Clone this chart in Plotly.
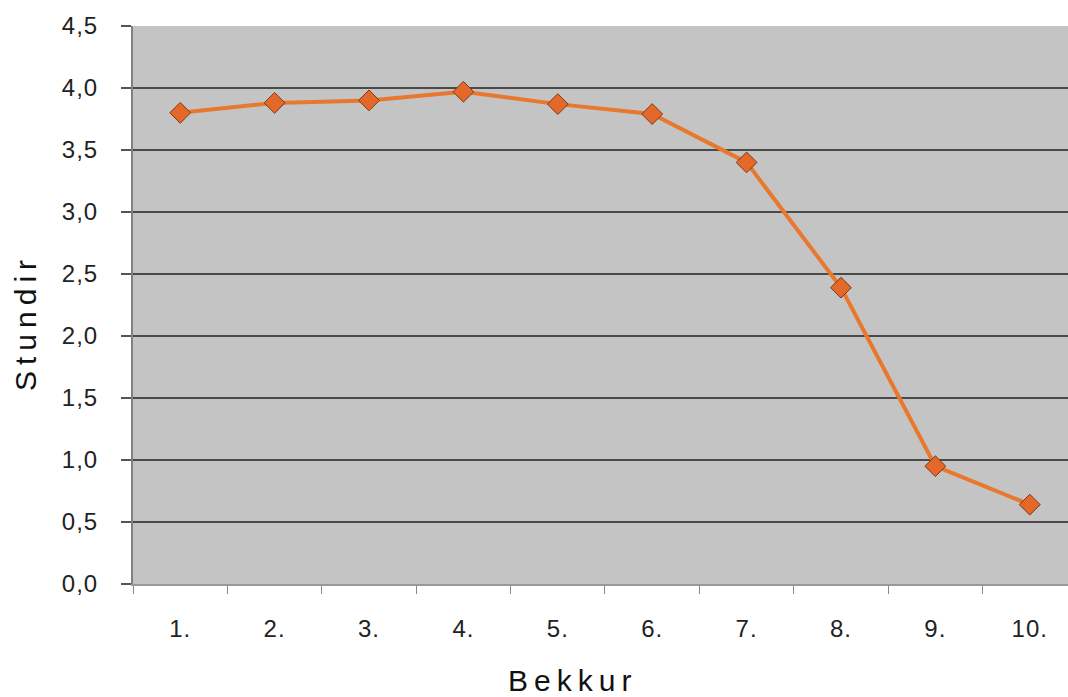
import plotly.graph_objects as go

categories = ["1.", "2.", "3.", "4.", "5.", "6.", "7.", "8.", "9.", "10."]
values = [3.8, 3.88, 3.9, 3.97, 3.87, 3.79, 3.4, 2.39, 0.95, 0.64]
y_ticks = [0, 0.5, 1.0, 1.5, 2.0, 2.5, 3.0, 3.5, 4.0, 4.5]
x_title = "Bekkur"
y_title = "Stundir"

W, H = 1068, 697
L, R, T, B = 133, 0, 26, 113
pw, ph = W - L - R, H - T - B

fig = go.Figure()
fig.add_trace(go.Scatter(
    x=categories, y=values, mode="lines+markers",
    line=dict(color="#e8782e", width=4),
    marker=dict(symbol="diamond", size=16, color="#e4682a",
                line=dict(color="#7a3a12", width=1)),
    showlegend=False,
))

font = "Liberation Sans, Arial, sans-serif"
fig.update_layout(
    width=W, height=H,
    margin=dict(l=L, r=R, t=T, b=B, autoexpand=False),
    paper_bgcolor="white", plot_bgcolor="#c4c4c4",
    separators=", ",
    font=dict(family=font, color="#222222"),
    xaxis=dict(
        type="category", range=[-0.5, 9.405],
        tickson="boundaries", ticks="outside", ticklen=8, tickwidth=1,
        tickcolor="#888888", showgrid=False,
        showline=True, linecolor="#999999", linewidth=2,
        tickfont=dict(size=24, family=font, color="#222222"),
        ticklabelstandoff=22,
    ),
    yaxis=dict(
        range=[0, 4.5], tickvals=y_ticks, tickformat=".1f",
        ticks="outside", ticklen=10, tickwidth=2, tickcolor="#555555",
        showgrid=True, gridcolor="#4a4a4a", gridwidth=2,
        showline=True, linecolor="#808080", linewidth=2,
        zeroline=False,
        tickfont=dict(size=24, family=font, color="#222222"),
        ticklabelstandoff=18,
    ),
    annotations=[
        dict(text=x_title, xref="paper", yref="paper",
             x=(572 - L) / pw, y=-(680 - (T + ph)) / ph,
             xanchor="center", yanchor="middle",
             showarrow=False, font=dict(size=30, family=font, color="#111111")),
        dict(text=y_title, xref="paper", yref="paper",
             x=-(L - 25) / pw, y=((T + ph) - 323) / ph, textangle=-90,
             xanchor="center", yanchor="middle",
             showarrow=False, font=dict(size=30, family=font, color="#111111")),
    ],
)

post = """
document.body.style.margin='0';
document.body.style.overflow='hidden';
document.querySelectorAll('.annotation-text').forEach(function(e){e.style.letterSpacing='6px';});
document.querySelectorAll('.xtick text, .ytick text').forEach(function(e){e.style.letterSpacing='1px';});
"""

fig.write_html("out.html", post_script=post, config={"displayModeBar": False})
